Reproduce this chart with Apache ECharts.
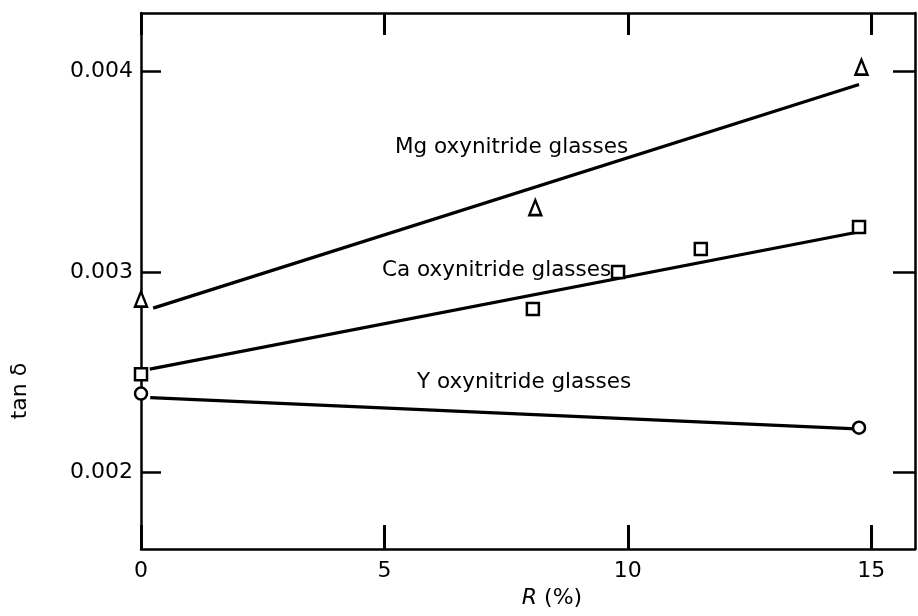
<!DOCTYPE html>
<html>
<head>
<meta charset="utf-8">
<script src="https://cdn.jsdelivr.net/npm/echarts@6/dist/echarts.min.js"></script>
<style>
  html, body { margin: 0; padding: 0; background: #fff; }
  #chart { width: 918px; height: 616px; }
</style>
</head>
<body>
<div id="chart"></div>
<script>
// Dielectric loss tangent of oxynitride glasses versus R (%)
const xTicks = [0, 5, 10, 15];
const yTicks = [0.002, 0.003, 0.004];

// Measured points
const mgR = [0, 8.1, 14.8];
const mgTan = [0.002865, 0.00332, 0.00402];
const caR = [0, 8.05, 9.8, 11.5, 14.75];
const caTan = [0.00249, 0.002815, 0.0030, 0.003115, 0.003224];
const yR = [0, 14.75];
const yTan = [0.002394, 0.002224];

// Fitted straight lines (end points)
const mgFitR = [0.25, 14.75];
const mgFitTan = [0.00282, 0.003934];
const caFitR = [0.18, 14.84];
const caFitTan = [0.002516, 0.003204];
const yFitR = [0.19, 14.7];
const yFitTan = [0.002374, 0.002218];

const pairs = (xs, ys) => xs.map((x, i) => [x, ys[i]]);

const FONT = 'DejaVu Sans';
const black = '#000';

const axisLine = { show: true, onZero: false, lineStyle: { color: black, width: 2.5 } };
function xAxisDef(pos, showLabels, tickLen) {
  return {
    type: 'value', position: pos, min: 0, max: 15.9,
    axisLine: axisLine,
    axisTick: { show: true, inside: true, length: tickLen, customValues: xTicks,
                lineStyle: { color: black, width: 3 } },
    axisLabel: { show: showLabels, customValues: xTicks, color: black,
                 fontSize: 22, fontFamily: FONT, margin: 11 },
    splitLine: { show: false }
  };
}
function yAxisDef(pos, showLabels, tickLen) {
  return {
    type: 'value', position: pos, min: 0.00162, max: 0.00429,
    axisLine: axisLine,
    axisTick: { show: true, inside: true, length: tickLen, customValues: yTicks,
                lineStyle: { color: black, width: 2.5 } },
    axisLabel: { show: showLabels, customValues: yTicks, color: black,
                 fontSize: 22, fontFamily: FONT, margin: 8,
                 formatter: v => v.toFixed(3) },
    splitLine: { show: false }
  };
}

const markerStyle = { color: '#fff', borderColor: black, borderWidth: 2.5, opacity: 1 };
function pointSeries(name, data, symbol, size) {
  return { name, type: 'scatter', data, symbol, symbolSize: size,
           itemStyle: markerStyle, z: 5 };
}
function fitSeries(name, data) {
  return { name, type: 'line', data, symbol: 'none', silent: true,
           lineStyle: { color: black, width: 3.2 }, z: 3 };
}

const chart = echarts.init(document.getElementById('chart'), null, { renderer: 'canvas' });
chart.setOption({
  animation: false,
  backgroundColor: '#fff',
  grid: { left: 141, right: 3, top: 13, bottom: 67 },
  xAxis: [xAxisDef('bottom', true, 24), xAxisDef('top', false, 22)],
  yAxis: [yAxisDef('left', true, 20), yAxisDef('right', false, 22)],
  series: [
    fitSeries('Mg fit', pairs(mgFitR, mgFitTan)),
    fitSeries('Ca fit', pairs(caFitR, caFitTan)),
    fitSeries('Y fit', pairs(yFitR, yFitTan)),
    pointSeries('Mg', pairs(mgR, mgTan), 'triangle', [12, 15]),
    pointSeries('Ca', pairs(caR, caTan), 'rect', 12),
    pointSeries('Y', pairs(yR, yTan), 'circle', 12)
  ],
  graphic: [
    { type: 'text', x: 395, y: 147,
      style: { text: 'Mg oxynitride glasses', font: '21.5px ' + FONT, fill: black, verticalAlign: 'middle' } },
    { type: 'text', x: 382, y: 270,
      style: { text: 'Ca oxynitride glasses', font: '21.5px ' + FONT, fill: black, verticalAlign: 'middle' } },
    { type: 'text', x: 417, y: 382,
      style: { text: 'Y oxynitride glasses', font: '21.5px ' + FONT, fill: black, verticalAlign: 'middle' } },
    { type: 'text', x: 552, y: 598,
      style: { text: '{i|R} (%)', font: '22px ' + FONT, fill: black, align: 'center', verticalAlign: 'middle',
               rich: { i: { fontStyle: 'italic', fontSize: 22, fontFamily: FONT } } } },
    { type: 'text', x: 20, y: 391, rotation: Math.PI / 2,
      style: { text: 'tan δ', font: '22px ' + FONT, fill: black, align: 'center', verticalAlign: 'middle' } }
  ]
});
</script>
</body>
</html>
